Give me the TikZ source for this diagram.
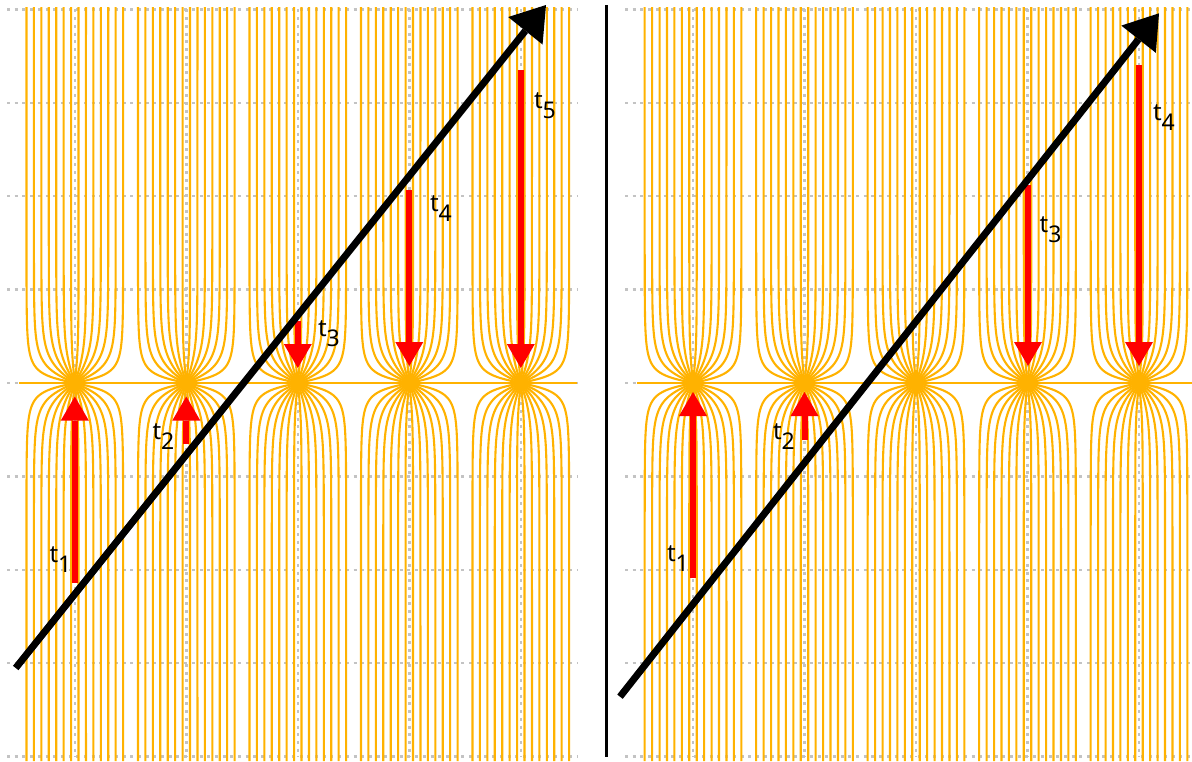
\documentclass[tikz,border=0pt]{standalone}
\usepackage{fontspec}
\setmainfont{Noto Sans}
\usetikzlibrary{arrows.meta}
\definecolor{fieldc}{RGB}{255,178,0}
\definecolor{gridc}{RGB}{195,195,195}
\definecolor{arrc}{RGB}{255,0,0}
\newcommand{\tsub}[1]{{\fontsize{24}{24}\selectfont t}\raisebox{-10pt}{\fontsize{23}{23}\selectfont #1}}
\begin{document}
\begin{tikzpicture}[x=1pt,y=-1pt,
  gridline/.style={gridc, line width=2.5pt, dash pattern=on 3pt off 4.7pt},
  fieldline/.style={fieldc, line width=2.1pt},
  redarrow/.style={arrc, line width=6pt, -{Triangle[width=28pt,length=24pt,line width=0pt]}},
  mainarrow/.style={black, line width=7pt, -{Triangle[width=44pt,length=33pt,line width=0pt]}},
  sepline/.style={black, line width=3.5pt},
  lab/.style={anchor=base west, inner sep=0pt, outer sep=0pt}]
\useasboundingbox (0,0) rectangle (1192,761);
% grid
\foreach \i in {0,...,8}{
  \pgfmathsetmacro\gy{9.4+93.4*\i}
  \draw[gridline] (7,\gy) -- (578,\gy);
  \draw[gridline] (625,\gy) -- (1192,\gy);
}
\foreach \X in {74.8,186.3,297.8,409.3,520.8,693,804.5,916,1027.5,1139}{
  \draw[gridline] (\X,9.4) -- (\X,756.6);
}
% field lines
\foreach \X in {74.8,186.3,297.8,409.3,520.8,693,804.5,916,1027.5,1139}{
  \foreach \k in {1,...,14}{
    \pgfmathsetmacro\ct{cot(12*\k)}
    \pgfmathsetmacro\xa{\X+111.5*(90-12*\k)/180}
    \draw[fieldline] plot[domain=0:1,samples=50,variable=\s] ({\X+111.5/180*atan(\ct*tanh(min(pi*145*\s*\s/111.5,4.5)))},{383-145*\s*\s}) -- (\xa,7);
    \draw[fieldline] plot[domain=0:1,samples=50,variable=\s] ({\X+111.5/180*atan(\ct*tanh(min(pi*145*\s*\s/111.5,4.5)))},{383+145*\s*\s}) -- (\xa,761);
  }
}
\draw[fieldline] (19,383) -- (576.5,383);
\draw[fieldline] (637.2,383) -- (1192,383);
% red arrows left
\coordinate (L1s) at (74.8,582.7); \coordinate (L1e) at (74.8,396.5);
\coordinate (L2s) at (186.3,444.3); \coordinate (L2e) at (186.3,396.5);
\coordinate (L3s) at (297.8,320.7); \coordinate (L3e) at (297.8,368);
\coordinate (L4s) at (409.3,190); \coordinate (L4e) at (409.3,366);
\coordinate (L5s) at (520.8,70); \coordinate (L5e) at (520.8,368);
\draw[redarrow] (L1s) -- (L1e);
\draw[redarrow] (L2s) -- (L2e);
\draw[redarrow] (L3s) -- (L3e);
\draw[redarrow] (L4s) -- (L4e);
\draw[redarrow] (L5s) -- (L5e);
% red arrows right
\coordinate (R1s) at (693,578); \coordinate (R1e) at (693,392);
\coordinate (R2s) at (804.5,440); \coordinate (R2e) at (804.5,392);
\coordinate (R3s) at (1028,185); \coordinate (R3e) at (1028,366);
\coordinate (R4s) at (1139,65); \coordinate (R4e) at (1139,366);
\draw[redarrow] (R1s) -- (R1e);
\draw[redarrow] (R2s) -- (R2e);
\draw[redarrow] (R3s) -- (R3e);
\draw[redarrow] (R4s) -- (R4e);
% black arrows
\coordinate (BLs) at (15.7,668); \coordinate (BLe) at (546,5);
\coordinate (BRs) at (620,696.7); \coordinate (BRe) at (1159,13.3);
\draw[mainarrow] (BLs) -- (BLe);
\draw[mainarrow] (BRs) -- (BRe);
% separator
\coordinate (SepT) at (606.5,5); \coordinate (SepB) at (606.5,757);
\draw[sepline] (SepT) -- (SepB);
% labels
\node[lab] (tL1) at (49.5,562.7) {\tsub{1}};
\node[lab] (tL2) at (152.5,439.3) {\tsub{2}};
\node[lab] (tL3) at (318,336.7) {\tsub{3}};
\node[lab] (tL4) at (430,211) {\tsub{4}};
\node[lab] (tL5) at (534,108.3) {\tsub{5}};
\node[lab] (tR1) at (667,561) {\tsub{1}};
\node[lab] (tR2) at (773,439.3) {\tsub{2}};
\node[lab] (tR3) at (1039.7,232.7) {\tsub{3}};
\node[lab] (tR4) at (1153,120) {\tsub{4}};
\end{tikzpicture}
\end{document}
